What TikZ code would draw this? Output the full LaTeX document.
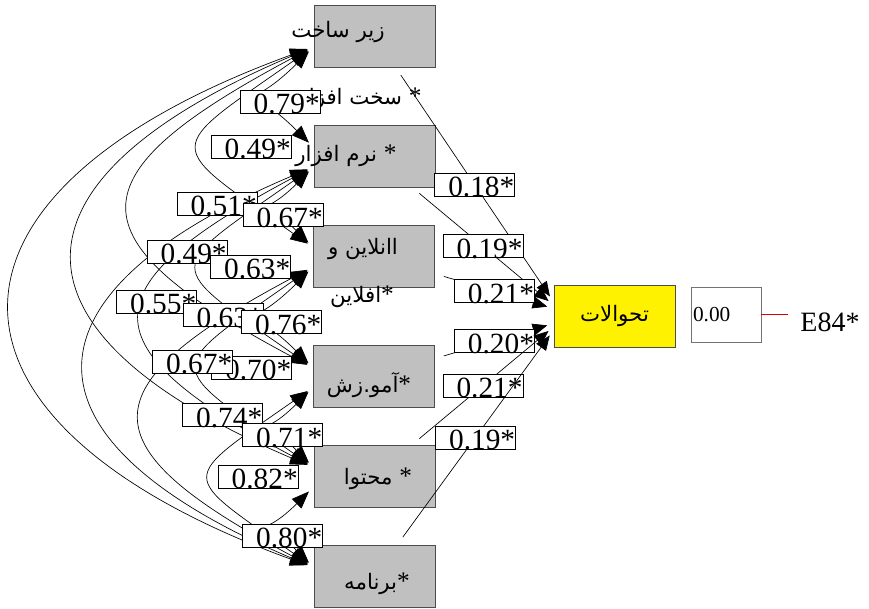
\documentclass[tikz,border=0pt]{standalone}
\usepackage{fontspec}
\setmainfont{Liberation Serif}
\newfontfamily\fa[Script=Arabic]{DejaVu Sans}
\TeXXeTstate=1
\usetikzlibrary{arrows.meta}
\definecolor{boxgray}{RGB}{192,192,192}
\newcommand\fstar{\hbox{\normalfont\fontsize{19}{19}\selectfont *}}

\tikzset{
  factor/.style={draw=black!70, fill=boxgray, minimum width=90.75pt, minimum height=46.5pt, inner sep=0pt},
  outcome/.style={draw=black!70, fill=yellow, minimum width=90.75pt, minimum height=46.5pt, inner sep=0pt, font=\fa\fontsize{16}{18}\selectfont},
  errbox/.style={draw=black!55, fill=white, text width=49.5pt, inner sep=1.5pt, minimum height=41.25pt, align=left, font=\fontsize{16}{16}\selectfont},
  fatext/.style={inner sep=0pt, font=\fa\fontsize{16}{18}\selectfont},
  lbox/.style={draw, fill=white, minimum width=60pt, minimum height=17.25pt, inner sep=0pt, label={[lnum]center:#1}},
  lnum/.style={inner sep=0pt, xshift=5pt, yshift=-2pt, font=\fontsize{22}{22}\selectfont},
  corr/.style={{Triangle[length=13pt,width=10pt]}-{Triangle[length=13pt,width=10pt]}, shorten <=5pt, shorten >=5pt},
  effect/.style={-{Triangle[length=11pt,width=9pt]}, shorten <=7pt, shorten >=5pt},
  errline/.style={red!85!black, shorten >=6pt}
}

\begin{document}
\begin{tikzpicture}[x=0.75pt, y=0.75pt, line width=0.5pt]
    \useasboundingbox (0,0) rectangle (869,-608);
    % the six factors
    \node[factor] (v1) at (374.5,-36) {};
    \node[factor] (v2) at (374.5,-156) {};
    \node[factor] (v3) at (374,-256) {};
    \node[factor] (v4) at (374,-376.5) {};
    \node[factor] (v5) at (374.5,-476) {};
    \node[factor] (v6) at (374.5,-576) {};
    \node[fatext] (t1a) at (338,-32) {\beginR زیر ساخت\endR};
    \node[fatext] (t1b) at (360,-99) {\beginR\fstar\ سخت افزار\endR};
    \node[fatext] (t2) at (346,-156) {\beginR\fstar\ نرم افزار\endR};
    \node[fatext] (t3a) at (363,-249) {\beginR اانلاین و\endR};
    \node[fatext] (t3b) at (362,-297) {\beginR\fstar افلاین\endR};
    \node[fatext] (t4) at (369,-385) {\beginR\fstar آمو.زش\endR};
    \node[fatext] (t5) at (378,-479) {\beginR\fstar\ محتوا\endR};
    \node[fatext] (t6) at (377,-584) {\beginR\fstar برنامه\endR};

    % dependent variable and its error
    \node[outcome] (trans) at (614.5,-316) {\beginR تحوالات\endR\hspace{16pt}};
    \node[errbox] (err) at (726,-314.5) {0.00};
    \node[font=\fontsize{21}{21}\selectfont] (e84) at (830,-322) {E84*};
    \draw[errline] (err.east) -- (err.east -| e84.west);

    % covariances between the factors
    \foreach \i in {1,...,5} {
        \pgfmathtruncatemacro\k{\i+1}
        \foreach \j in {\k,...,6} {
            \pgfmathtruncatemacro\s{\j-\i}
            \pgfmathsetmacro\ao{180+{45,35,28,23,20}[\s-1]}
            \pgfmathsetmacro\ai{180-{45,35,28,23,20}[\s-1]}
            \pgfmathsetmacro\loose{{2.75,2.35,2.2,2.1,2.1}[\s-1]}
            \draw[corr] (v\i.190) to[out=\ao, in=\ai, looseness=\loose] (v\j.172);
        }
    }

    % paths to the dependent variable
    \foreach \v/\a/\val in {1/167/0.18*, 2/170/0.19*, 3/173/0.21*, 4/187/0.20*, 5/190/0.21*, 6/193/0.19*}
        \draw[effect] (v\v) -- (trans.\a) node[lbox=\val, pos=0.5] {};

    % covariance values
    \foreach \n/\x/\y/\val in {c12/280/101.5/0.79*, c13/251/146.5/0.49*, c14/217/203.5/0.51*,
        c23/283/215/0.67*, c15/187/251.5/0.49*, c24/250.5/266.5/0.63*, c16/156.5/301.5/0.55*,
        c25/223/315/0.63*, c34/281.5/322/0.76*, c35/251.5/367.5/0.70*, c26/192.5/361.5/0.67*,
        c36/222.5/415/0.74*, c45/282.5/435/0.71*, c46/258/476.5/0.82*, c56/282.5/535.5/0.80*}
        \node[lbox=\val] (\n) at (\x,-\y) {};
\end{tikzpicture}
\end{document}
